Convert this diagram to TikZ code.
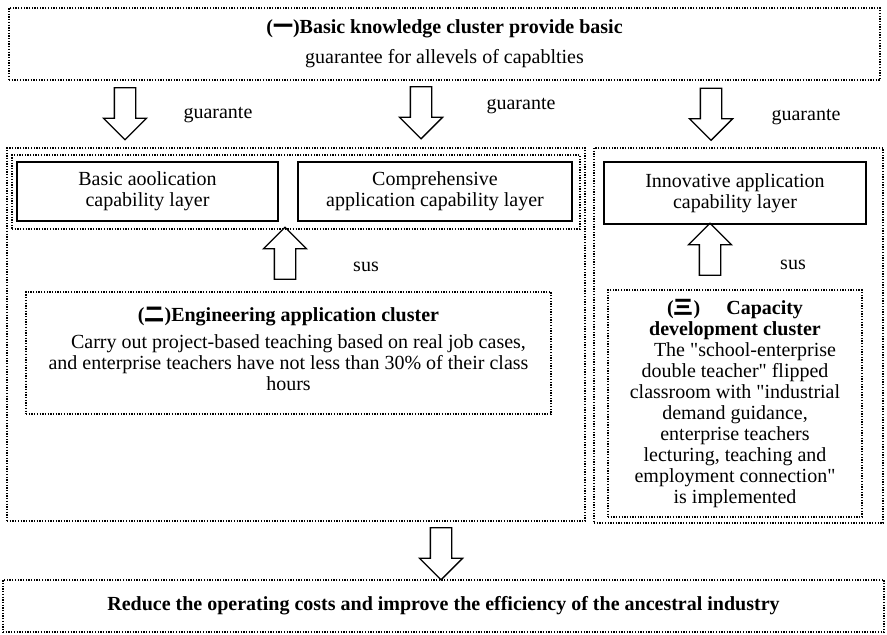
\documentclass[tikz,border=0pt]{standalone}
\usepackage{fontspec}
\setmainfont{Liberation Serif}
\newfontfamily\cjk{Noto Sans CJK SC}
\usetikzlibrary{shapes.arrows,positioning}

\begin{document}
\begin{tikzpicture}[x=1pt,y=-1pt,
  font=\fontsize{20}{21}\selectfont,
  dotbox/.style={draw, line width=1.3pt, dash pattern=on 1.3pt off 1.4pt, inner sep=0pt},
  layerbox/.style={draw, line width=1.6pt, inner sep=0pt, align=center},
  blockarrow/.style={single arrow, draw, line width=1.3pt, inner sep=10pt,
    single arrow head extend=11pt, minimum height=52pt},
  downarrow/.style={blockarrow, shape border rotate=270},
  uparrow/.style={blockarrow, shape border rotate=90},
  lbl/.style={inner sep=0pt},
]
\useasboundingbox (0,0) rectangle (887,635);

% top cluster
\node [dotbox, minimum width=871, minimum height=72, align=center] (basic) at (444.5,44)
  {\textbf{({\cjk 一})Basic knowledge cluster provide basic}\\[9pt]
   guarantee for allevels of capablties};

\node [downarrow] (g1) at (125,108.5) {};
\node [downarrow] (g2) at (421,107.5) {};
\node [downarrow] (g3) at (711,109) {};
\node [lbl] at (218,115) {guarante};
\node [lbl] at (521,106) {guarante};
\node [lbl] at (806,117) {guarante};

% left part
\node [dotbox, minimum width=578, minimum height=373] (left) at (296,334.5) {};
\node [dotbox, minimum width=568, minimum height=74] (layers) at (296,192) {};
\node [layerbox, minimum width=261, minimum height=59] (basiclayer) at (147.5,191.5)
  {Basic aoolication\\capability layer};
\node [layerbox, minimum width=274, minimum height=59] (complayer) at (435,191.5)
  {Comprehensive\\application capability layer};
\node [uparrow] (s1) at (285,258.5) {};
\node [lbl] at (366,267) {sus};

\node [dotbox, minimum width=525, minimum height=122] (eng) at (288.5,353) {};
\node [below=16pt of eng.north, align=center, inner sep=0pt] (engtext)
  {\textbf{({\cjk 二})Engineering application cluster}\\[6pt]
   \hspace*{1em}Carry out project-based teaching based on real job cases,\\
   and enterprise teachers have not less than 30\% of their class\\
   hours};

% right part
\node [dotbox, minimum width=289, minimum height=375] (right) at (738.5,335.5) {};
\node [layerbox, minimum width=262, minimum height=62] (innolayer) at (735,193)
  {Innovative application\\capability layer};
\node [uparrow] (s2) at (710,254.5) {};
\node [lbl] at (793,265) {sus};

\node [dotbox, minimum width=254, minimum height=227] (cap) at (735,403.5) {};
\node [below=10pt of cap.north, align=center, inner sep=0pt] (captext)
  {\textbf{({\cjk 三})\hspace{1.3em}Capacity}\\
   \textbf{development cluster}\\
   \hspace*{1em}The \textquotedbl school-enterprise\\
   double teacher\textquotedbl{} flipped\\
   classroom with \textquotedbl industrial\\
   demand guidance,\\
   enterprise teachers\\
   lecturing, teaching and\\
   employment connection\textquotedbl\\
   is implemented};

% result
\node [downarrow] (r) at (441,548.5) {};
\node [dotbox, minimum width=881, minimum height=52] (result) at (443.5,606)
  {\textbf{Reduce the operating costs and improve the efficiency of the ancestral industry}};
\end{tikzpicture}
\end{document}
